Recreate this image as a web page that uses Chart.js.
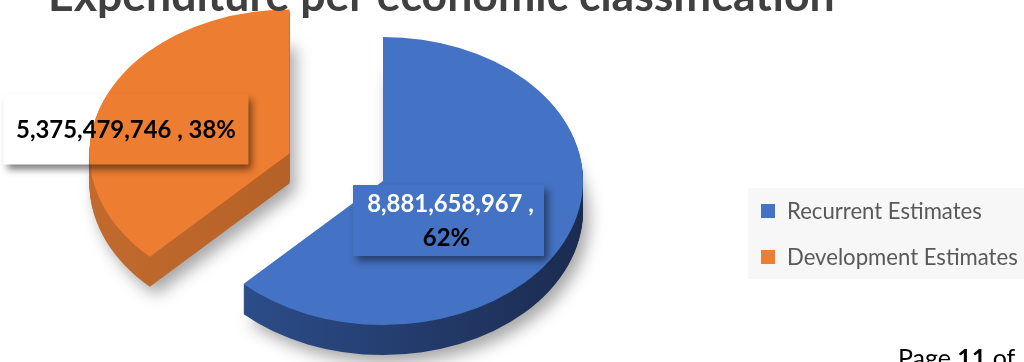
<!DOCTYPE html>
<html><head><meta charset="utf-8">
<script src="https://cdn.jsdelivr.net/npm/chart.js@4/dist/chart.umd.min.js"></script>
<style>html,body{margin:0;padding:0;background:#fff;overflow:hidden}#wrap{width:1024px;height:362px;position:relative}canvas{display:block}</style>
</head><body><div id="wrap"><canvas id="c" width="1024" height="362" style="width:1024px;height:362px"></canvas></div>
<script>
// ---- data ----
const titleText = 'Expenditure per economic classification';
const categories = ['Recurrent Estimates', 'Development Estimates'];
const values = [8881658967, 5375479746];
const sliceColors = ['#4472C4', '#ED7D31'];
const footerParts = ['Page ', '11', ' of'];

// ---- style ----
const FONT = 'Lato, "Open Sans", sans-serif';
const sideGradients = [['#2F5393', '#1B2B50'], ['#C26A2E', '#A9581F']];
const explodeOffsets = [0, 101];
const flatten = 0.72;
const depth = 30;

function fitSize(ctx, text, weight, target) {
  ctx.font = weight + ' 100px ' + FONT;
  return 100 * target / ctx.measureText(text).width;
}
function fmt(v) { return v.toLocaleString('en-US'); }

function sliceGeom(arc, i) {
  const mid = (arc.startAngle + arc.endAngle) / 2;
  const off = explodeOffsets[i];
  return {
    cx: arc.x + Math.cos(mid) * off,
    cy: arc.y + Math.sin(mid) * off * flatten,
    R: arc.outerRadius, a0: arc.startAngle, a1: arc.endAngle
  };
}
function slicePath(ctx, g, dy) {
  ctx.beginPath();
  ctx.moveTo(g.cx, g.cy + dy);
  ctx.ellipse(g.cx, g.cy + dy, g.R, g.R * flatten, 0, g.a0, g.a1, false);
  ctx.closePath();
}

const pie3d = {
  id: 'pie3d',
  beforeDatasetsDraw(chart) {
    const ctx = chart.ctx;
    const arcs = chart.getDatasetMeta(0).data;
    const order = [1, 0];
    for (const i of order) {
      const g = sliceGeom(arcs[i], i);
      const grad = ctx.createLinearGradient(g.cx - g.R, 0, g.cx + g.R, 0);
      grad.addColorStop(0, sideGradients[i][0]);
      grad.addColorStop(1, sideGradients[i][1]);
      ctx.save();
      ctx.shadowColor = 'rgba(0,0,0,0.35)';
      ctx.shadowBlur = 16;
      ctx.shadowOffsetX = 6;
      ctx.shadowOffsetY = 8;
      slicePath(ctx, g, depth);
      ctx.fillStyle = grad;
      ctx.fill();
      ctx.restore();
      ctx.save();
      ctx.fillStyle = grad;
      for (let d = depth - 1; d >= 1; d--) { slicePath(ctx, g, d); ctx.fill(); }
      slicePath(ctx, g, 0);
      ctx.fillStyle = arcs[i].options.backgroundColor;
      ctx.fill();
      ctx.restore();
    }
    return false;
  },
  afterDraw(chart) {
    const ctx = chart.ctx;
    const arcs = chart.getDatasetMeta(0).data;
    const data = chart.data.datasets[0].data;
    const total = data.reduce((a, b) => a + b, 0);
    const pct = data.map(v => Math.round(v / total * 100) + '%');

    // title
    ctx.save();
    const ts = fitSize(ctx, titleText, 'bold', 787);
    ctx.font = 'bold ' + ts + 'px ' + FONT;
    ctx.fillStyle = '#404040';
    ctx.textAlign = 'left';
    ctx.textBaseline = 'alphabetic';
    ctx.fillText(titleText, 48, 11);
    ctx.restore();

    // label: development (transparent box with shadow)
    const gO = sliceGeom(arcs[1], 1);
    const bO = { x: gO.cx - 286, y: gO.cy - 60, w: 245, h: 71 };
    ctx.save();
    ctx.beginPath();
    ctx.rect(0, 0, chart.width, chart.height);
    ctx.rect(bO.x, bO.y, bO.w, bO.h);
    ctx.clip('evenodd');
    ctx.shadowColor = 'rgba(0,0,0,0.5)';
    ctx.shadowBlur = 7;
    ctx.shadowOffsetX = 5000 + 4;
    ctx.shadowOffsetY = 5;
    ctx.fillStyle = '#000';
    ctx.fillRect(bO.x - 5000, bO.y, bO.w, bO.h);
    ctx.restore();
    ctx.save();
    const lineO = fmt(data[1]) + ' , ' + pct[1];
    const ls = fitSize(ctx, lineO, 'bold', 220);
    ctx.font = 'bold ' + ls + 'px ' + FONT;
    ctx.fillStyle = '#000';
    ctx.textAlign = 'center';
    ctx.textBaseline = 'middle';
    ctx.fillText(lineO, bO.x + bO.w / 2, bO.y + bO.h / 2 + 1);
    ctx.restore();

    // label: recurrent (filled box with shadow)
    const gB = sliceGeom(arcs[0], 0);
    const bB = { x: gB.cx - 30, y: gB.cy + 4, w: 191, h: 71 };
    ctx.save();
    ctx.shadowColor = 'rgba(0,0,0,0.45)';
    ctx.shadowBlur = 7;
    ctx.shadowOffsetX = 4;
    ctx.shadowOffsetY = 5;
    ctx.fillStyle = sliceColors[0];
    ctx.fillRect(bB.x, bB.y, bB.w, bB.h);
    ctx.restore();
    ctx.save();
    ctx.font = 'bold ' + ls + 'px ' + FONT;
    ctx.textAlign = 'center';
    ctx.textBaseline = 'middle';
    ctx.fillStyle = '#FFFFFF';
    ctx.fillText(fmt(data[0]) + ' ,', bB.x + bB.w / 2 + 2, bB.y + 19);
    ctx.fillStyle = '#000';
    ctx.fillText(pct[0], bB.x + bB.w / 2 - 2, bB.y + 53);
    ctx.restore();

    // legend
    ctx.save();
    ctx.fillStyle = '#F7F7F7';
    ctx.fillRect(748, 188, 276, 91);
    const lgs = fitSize(ctx, chart.data.labels[0], 'normal', 195);
    ctx.font = lgs + 'px ' + FONT;
    ctx.textAlign = 'left';
    ctx.textBaseline = 'middle';
    chart.data.labels.forEach((lab, i) => {
      const yc = 211 + i * 46;
      ctx.fillStyle = chart.data.datasets[0].backgroundColor[i];
      ctx.fillRect(761, yc - 7, 14, 14);
      ctx.fillStyle = '#595959';
      ctx.fillText(lab, 787, yc + 1);
    });
    ctx.restore();

    // footer
    ctx.save();
    const fs = fitSize(ctx, 'Page', 'normal', 53);
    ctx.textBaseline = 'alphabetic';
    ctx.fillStyle = '#000';
    let x = 898;
    footerParts.forEach((p, i) => {
      ctx.font = (i === 1 ? 'bold ' : 'normal ') + fs + 'px ' + FONT;
      ctx.fillText(p, x, 367);
      x += ctx.measureText(p).width;
    });
    ctx.restore();
  }
};

new Chart(document.getElementById('c'), {
  type: 'pie',
  data: {
    labels: categories,
    datasets: [{ data: values, backgroundColor: sliceColors, borderWidth: 0 }]
  },
  options: {
    responsive: false,
    animation: false,
    events: [],
    radius: 200,
    layout: { padding: { left: 0, right: 258, top: 0, bottom: 0 } },
    plugins: { legend: { display: false }, title: { display: false }, tooltip: { enabled: false } }
  },
  plugins: [pie3d]
});
</script></body></html>
